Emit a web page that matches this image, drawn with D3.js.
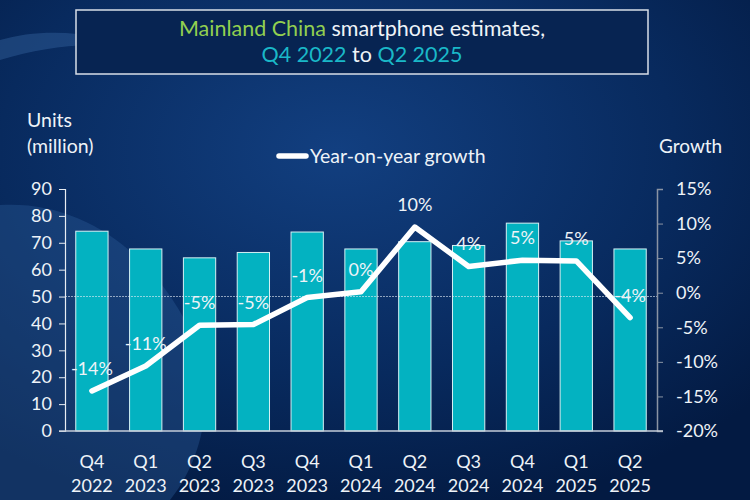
<!DOCTYPE html>
<html>
<head>
<meta charset="utf-8">
<script src="https://cdn.jsdelivr.net/npm/d3@7"></script>
<style>
  body { margin: 0; background: #06214d; }
  svg text { font-family: Lato, "Open Sans", sans-serif; fill: #eef3f8; }
</style>
</head>
<body>
<svg id="chart" width="750" height="500"></svg>
<script>
// chart data
const quarters = ["Q4", "Q1", "Q2", "Q3", "Q4", "Q1", "Q2", "Q3", "Q4", "Q1", "Q2"]
const years = ["2022", "2023", "2023", "2023", "2023", "2024", "2024", "2024", "2024", "2025", "2025"]
const units = [74.3, 67.7, 64.4, 66.4, 74, 67.7, 70.4, 69, 77.3, 70.7, 67.7]
const growth = [-14.2, -10.6, -4.7, -4.6, -0.7, 0.15, 9.5, 3.8, 4.7, 4.6, -3.6]
const growth_labels = ["-14%", "-11%", "-5%", "-5%", "-1%", "0%", "10%", "4%", "5%", "5%", "-4%"]
const left_ticks = [0, 10, 20, 30, 40, 50, 60, 70, 80, 90]
const right_ticks = [-20, -15, -10, -5, 0, 5, 10, 15]

const svg = d3.select("#chart")
const cats = quarters.map((q, i) => q + " " + years[i])

// background
const defs = svg.append("defs")
const bg = defs.append("radialGradient").attr("id", "bg")
bg.attr("cx", "45%").attr("cy", "30%").attr("r", "75%")
bg.append("stop").attr("offset", "0%").attr("stop-color", "#123f80")
bg.append("stop").attr("offset", "60%").attr("stop-color", "#082a5e")
bg.append("stop").attr("offset", "100%").attr("stop-color", "#031a42")

svg.append("rect").attr("width", 750).attr("height", 500).attr("fill", "url(#bg)")

// lighter swooshes on the left
svg.append("path")
  .attr("d", "M0,205 C80,200 150,250 190,330 C215,380 210,450 170,500 L0,500 Z")
  .attr("fill", "#2a5a96").attr("opacity", 0.4)
svg.append("path")
  .attr("d", "M0,40 C40,28 100,30 140,52 C100,40 50,45 0,60 Z")
  .attr("fill", "#3a6aa6").attr("opacity", 0.4)

// title box
svg.append("rect")
  .attr("x", 76).attr("y", 10).attr("width", 572).attr("height", 64)
  .attr("fill", "#072452").attr("stroke", "#d8dee8").attr("stroke-width", 1.5)

const t1 = svg.append("text").attr("x", 362).attr("y", 36)
  .attr("text-anchor", "middle").style("font-size", "21.5px")
t1.append("tspan").style("fill", "#92d050").text("Mainland China")
t1.append("tspan").text(" smartphone estimates,")
const t2 = svg.append("text").attr("x", 362).attr("y", 62)
  .attr("text-anchor", "middle").style("font-size", "21.5px")
t2.append("tspan").style("fill", "#1ab8c8").text("Q4 2022")
t2.append("tspan").text(" to ")
t2.append("tspan").style("fill", "#1ab8c8").text("Q2 2025")

// scales
const x = d3.scaleBand().domain(cats).range([65, 657]).paddingInner(0.4).paddingOuter(0.2)
const y_left = d3.scaleLinear().domain([0, 90]).range([431, 189])
const y_right = d3.scaleLinear().domain([-20, 15]).range([431, 189])

// bars
svg.append("g").selectAll("rect")
  .data(units).enter()
  .append("rect")
  .attr("x", (d, i) => x(cats[i]))
  .attr("y", d => y_left(d))
  .attr("width", x.bandwidth())
  .attr("height", d => y_left(0) - y_left(d))
  .attr("fill", "#03b2c1")
  .attr("stroke", "#d6f1f4").attr("stroke-width", 1)

// dashed line at 50
svg.append("line")
  .attr("x1", 65).attr("x2", 657)
  .attr("y1", y_left(50)).attr("y2", y_left(50))
  .attr("stroke", "#e6eef6").attr("stroke-width", 0.8)
  .attr("stroke-dasharray", "2,1").attr("opacity", 0.8)

// axes
const left_axis = d3.axisLeft(y_left).tickValues(left_ticks).tickSize(6).tickPadding(7)
const gl = svg.append("g").attr("transform", "translate(65,0)").call(left_axis)
gl.select(".domain").attr("stroke", "#e8edf3").attr("stroke-width", 1.2)
gl.selectAll(".tick line").attr("stroke", "#e8edf3")
gl.selectAll(".tick text").style("font-size", "18px").attr("fill", "#eef3f8")
  .style("font-family", "Lato, sans-serif")

const right_axis = d3.axisRight(y_right).tickValues(right_ticks).tickSize(6).tickPadding(13)
  .tickFormat(d => d + "%")
const gr = svg.append("g").attr("transform", "translate(657,0)").call(right_axis)
gr.select(".domain").attr("stroke", "#8a94a4").attr("stroke-width", 1.5)
gr.selectAll(".tick line").attr("stroke", "#8a94a4")
gr.selectAll(".tick text").style("font-size", "18px").attr("fill", "#eef3f8")
  .style("font-family", "Lato, sans-serif")

const bottom_axis = d3.axisBottom(x).tickSize(0).tickFormat("")
const gb = svg.append("g").attr("transform", "translate(0,431)").call(bottom_axis)
gb.select(".domain").attr("d", "M59,0H663").attr("stroke", "#c4ccd8").attr("stroke-width", 1.5)

// category labels
const cl = svg.append("g").selectAll("text")
  .data(cats).enter()
  .append("text")
  .attr("text-anchor", "middle")
  .style("font-size", "18px")
cl.append("tspan").attr("x", d => x(d) + x.bandwidth() / 2).attr("y", 468)
  .text((d, i) => quarters[i])
cl.append("tspan").attr("x", d => x(d) + x.bandwidth() / 2).attr("y", 492)
  .text((d, i) => years[i])

// growth line
const line = d3.line()
  .x((d, i) => x(cats[i]) + x.bandwidth() / 2)
  .y(d => y_right(d))
svg.append("path")
  .datum(growth)
  .attr("d", line)
  .attr("fill", "none")
  .attr("stroke", "#ffffff").attr("stroke-width", 5.5)
  .attr("stroke-linejoin", "round").attr("stroke-linecap", "round")

svg.append("g").selectAll("text")
  .data(growth).enter()
  .append("text")
  .attr("x", (d, i) => x(cats[i]) + x.bandwidth() / 2)
  .attr("y", d => y_right(d) - 16)
  .attr("text-anchor", "middle")
  .style("font-size", "18px")
  .text((d, i) => growth_labels[i])

// axis titles
svg.append("text").attr("x", 27).attr("y", 127).style("font-size", "19.5px").text("Units")
svg.append("text").attr("x", 27).attr("y", 153).style("font-size", "19.5px").text("(million)")
svg.append("text").attr("x", 659).attr("y", 153).style("font-size", "19px").text("Growth")

// legend
svg.append("line").attr("x1", 279).attr("x2", 306).attr("y1", 156).attr("y2", 156)
  .attr("stroke", "#ffffff").attr("stroke-width", 5.5).attr("stroke-linecap", "round")
svg.append("text").attr("x", 310).attr("y", 163).style("font-size", "19.5px").text("Year-on-year growth")
</script>
</body>
</html>
